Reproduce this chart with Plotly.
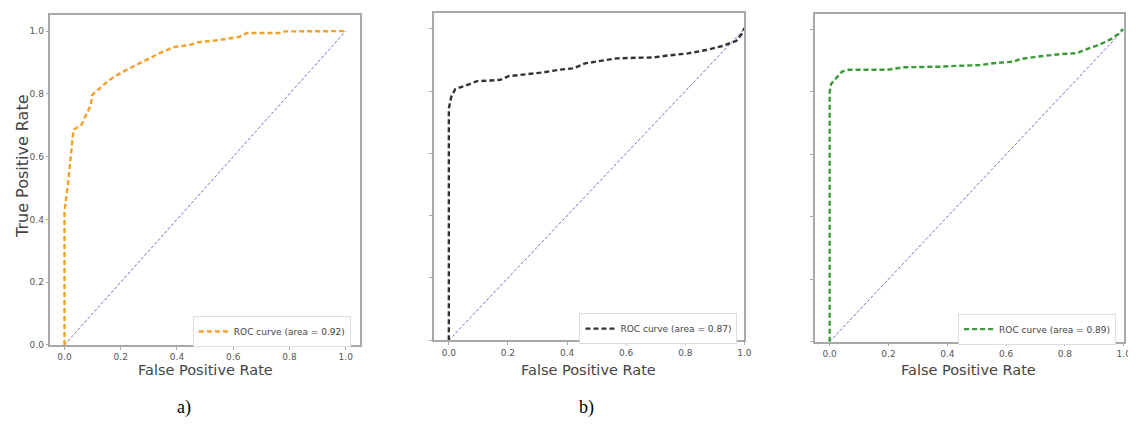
import plotly.graph_objects as go

# Panel a (orange)
fpr_a = [0, 0, 0.012, 0.02, 0.032, 0.059, 0.071, 0.083, 0.094, 0.098, 0.124, 0.159, 0.206, 0.254, 0.30,
         0.348, 0.389, 0.442, 0.478, 0.537, 0.596, 0.62, 0.649, 0.713, 0.772, 0.784, 0.95, 1.0]
tpr_a = [0, 0.427, 0.51, 0.575, 0.686, 0.70, 0.72, 0.744, 0.765, 0.796, 0.817, 0.844, 0.870, 0.891, 0.912,
         0.934, 0.949, 0.955, 0.965, 0.970, 0.978, 0.981, 0.994, 0.994, 0.994, 0.999, 0.999, 1.0]
# Panel b (black)
fpr_b = [0, 0, 0.008, 0.022, 0.051, 0.096, 0.14, 0.174, 0.202, 0.264, 0.32, 0.376, 0.421, 0.461, 0.511,
         0.567, 0.635, 0.691, 0.747, 0.809, 0.871, 0.927, 0.972, 0.994, 1.0]
tpr_b = [0, 0.744, 0.781, 0.807, 0.816, 0.832, 0.834, 0.836, 0.848, 0.855, 0.860, 0.869, 0.873, 0.889, 0.897,
         0.905, 0.907, 0.908, 0.915, 0.921, 0.932, 0.945, 0.961, 0.987, 1.003]
# Panel c (green)
fpr_c = [0, 0, 0.005, 0.019, 0.042, 0.064, 0.138, 0.195, 0.251, 0.308, 0.376, 0.443, 0.511, 0.557, 0.624,
         0.647, 0.704, 0.783, 0.839, 0.868, 0.919, 0.958, 0.986, 0.998]
tpr_c = [0, 0.80, 0.826, 0.842, 0.865, 0.871, 0.871, 0.871, 0.879, 0.879, 0.881, 0.884, 0.886, 0.892, 0.897,
         0.905, 0.913, 0.921, 0.924, 0.935, 0.952, 0.970, 0.989, 1.002]

diag = [0, 1]
legend_names = ["ROC curve (area = 0.92)", "ROC curve (area = 0.87)", "ROC curve (area = 0.89)"]
panel_labels = ["a)", "b)"]
tick_vals = [0, 0.2, 0.4, 0.6, 0.8, 1.0]
tick_text = ["0.0", "0.2", "0.4", "0.6", "0.8", "1.0"]

OFF = 8  # default page body margin
W, H = 1136 - OFF, 425 - OFF


def px(x):
    return (x - OFF) / W


def py(y):
    return 1 - (y - OFF) / H


frames = [  # left, top, right, bottom in reference page px
    (50.7, 15.5, 362, 349),
    (436.7, 13.3, 749, 344.3),
    (820, 14, 1130.7, 345.7),
]
xranges = [[-0.05, 1.05], [-0.05, 1.0], [-0.05, 1.0]]
colors = ["#f5a02a", "#333333", "#3a9a3a"]
curves = [(fpr_a, tpr_a), (fpr_b, tpr_b), (fpr_c, tpr_c)]
legend_pos = [(353, 335.5), (742, 332.5), (1123, 333)]
xtitle_pos = [207, 592, 975]
label_pos = [185, 590]

fig = go.Figure()
layout = dict(width=W, height=H, margin=dict(l=0, r=0, t=0, b=0),
              paper_bgcolor="white", plot_bgcolor="white", annotations=[])

for i in range(3):
    sfx = "" if i == 0 else str(i + 1)
    xa, ya = "x" + sfx, "y" + sfx
    leg = "legend" if i == 0 else "legend" + str(i + 1)
    fig.add_trace(go.Scatter(x=diag, y=diag, mode="lines", xaxis=xa, yaxis=ya,
                             line=dict(color="#6d6dc4", width=1, dash="3px,2px"),
                             showlegend=False, hoverinfo="skip"))
    fig.add_trace(go.Scatter(x=curves[i][0], y=curves[i][1], mode="lines", xaxis=xa, yaxis=ya,
                             name=legend_names[i], legend=leg,
                             line=dict(color=colors[i], width=2.4, dash="5px,3px")))
    l, t, r, b = frames[i]
    ax_common = dict(showline=True, mirror=True, linecolor="#a8a8a8", linewidth=1.5,
                     showgrid=False, zeroline=False, ticks="outside", ticklen=3,
                     tickcolor="#a8a8a8", tickfont=dict(family="DejaVu Sans", size=9, color="#555"),
                     tickvals=tick_vals, ticktext=tick_text)
    layout["xaxis" + sfx] = dict(ax_common, domain=[px(l), px(r)], range=xranges[i], anchor=ya)
    layout["yaxis" + sfx] = dict(ax_common, domain=[py(b), py(t)], range=[0, 1.05],
                                 anchor=xa, showticklabels=(i == 0))
    lx, ly = legend_pos[i]
    layout[leg] = dict(x=px(lx), y=py(ly), xanchor="right", yanchor="middle",
                       bordercolor="#dddddd", borderwidth=1, bgcolor="white",
                       font=dict(family="DejaVu Sans", size=9, color="#444"),
                       itemwidth=30, tracegroupgap=0)
    layout["annotations"].append(dict(text="False Positive Rate", x=px(xtitle_pos[i]), y=py(374),
                                      xref="paper", yref="paper", showarrow=False,
                                      xanchor="center", yanchor="middle",
                                      font=dict(family="DejaVu Sans", size=14.5, color="#444")))
    if i < 2:
        layout["annotations"].append(dict(text=panel_labels[i], x=px(label_pos[i]), y=py(412),
                                          xref="paper", yref="paper", showarrow=False,
                                          xanchor="center", yanchor="middle",
                                          font=dict(family="Liberation Serif", size=18, color="black")))

layout["annotations"].append(dict(text="True Positive Rate", x=px(22), y=py(168),
                                  xref="paper", yref="paper", showarrow=False, textangle=-90,
                                  xanchor="center", yanchor="middle",
                                  font=dict(family="DejaVu Sans", size=16, color="#444")))
fig.update_layout(**layout)
fig.write_html("out.html")
